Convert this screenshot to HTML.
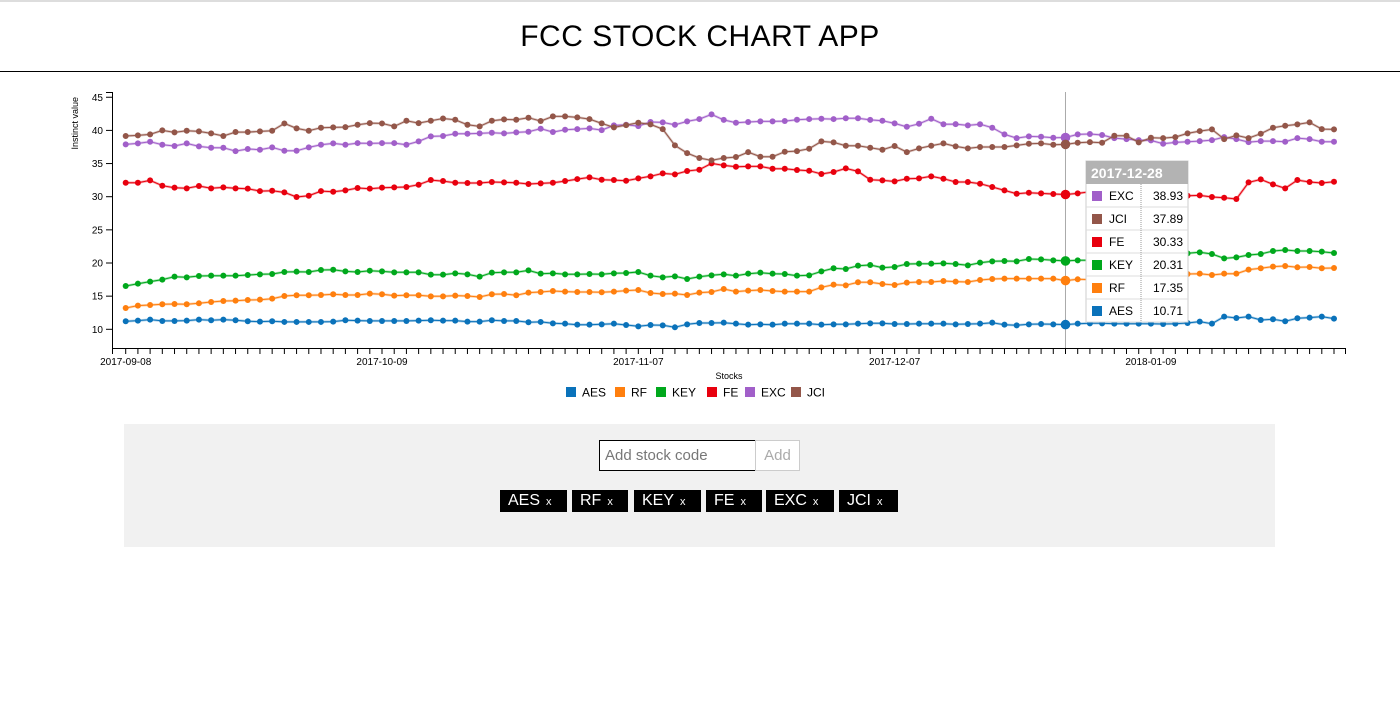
<!DOCTYPE html>
<html><head><meta charset="utf-8"><style>
body{margin:0;width:1400px;height:710px;background:#fff;font-family:"Liberation Sans",sans-serif;overflow:hidden;position:relative}
#hdr{position:absolute;left:0;top:0;width:1400px;height:72px;border-top:2px solid #ddd;border-bottom:1px solid #000;box-sizing:border-box}
#hdr h1{margin:0;font-weight:normal;font-size:30px;text-align:center;line-height:70px;letter-spacing:0.5px}
#panel{position:absolute;left:124px;top:424px;width:1151px;height:123px;background:#f1f1f1}
#inp{position:absolute;left:475px;top:16px;width:157px;height:31px;border:1px solid #000;box-sizing:border-box;background:#fff;font-size:15px;color:#777;padding:6px 5px;font-family:"Liberation Sans",sans-serif}
#addb{position:absolute;left:631px;top:16px;width:45px;height:31px;border:1px solid #ccc;box-sizing:border-box;background:#fff;color:#aaa;font-size:15px;text-align:center;line-height:29px}
.tag{position:absolute;top:66px;height:22px;background:#000;color:#fff;font-size:16px;line-height:22px;padding-left:8px;box-sizing:border-box}
.tag span{font-size:11px;margin-left:6px}
</style></head><body>
<div id="hdr"><h1>FCC STOCK CHART APP</h1></div>
<svg id="chart" width="1400" height="420" style="position:absolute;left:0;top:0"></svg>
<div id="panel">
<div id="inp">Add stock code</div>
<div id="addb">Add</div>
<div class="tag" style="left:376px;width:67px">AES<span>x</span></div>
<div class="tag" style="left:448px;width:56px">RF<span>x</span></div>
<div class="tag" style="left:510px;width:67px">KEY<span>x</span></div>
<div class="tag" style="left:582px;width:56px">FE<span>x</span></div>
<div class="tag" style="left:642px;width:68px">EXC<span>x</span></div>
<div class="tag" style="left:715px;width:59px">JCI<span>x</span></div>
</div>
<script>
const seriesNames=["AES","RF","KEY","FE","EXC","JCI"];
const seriesColors=["#0a72ba","#ff7f0e","#00a81c","#e8000e","#a15fc9","#935649"];
const holidays=["2017-11-23","2017-12-25","2018-01-01","2018-01-15"];
const yTicks=[10,15,20,25,30,35,40,45];
const aes=[11.21,11.31,11.46,11.26,11.26,11.31,11.46,11.36,11.46,11.36,11.21,11.16,11.21,11.11,11.11,11.11,11.11,11.16,11.36,11.31,11.26,11.26,11.26,11.26,11.31,11.36,11.31,11.31,11.16,11.16,11.36,
11.26,11.26,11.06,11.11,10.9,10.85,10.7,10.7,10.75,10.85,10.65,10.45,10.65,10.6,10.3,10.75,10.95,10.95,11.0,10.85,10.7,10.75,10.7,10.85,10.85,10.85,10.7,10.75,10.75,10.85,10.9,10.9,10.8,10.8,10.85,
10.85,10.85,10.75,10.8,10.85,11.0,10.7,10.6,10.75,10.8,10.75,10.71,10.85,10.9,10.9,10.85,10.85,10.85,10.85,10.8,10.85,10.95,11.16,10.85,11.91,11.71,11.91,11.41,11.51,11.21,11.66,11.76,11.91,11.61];
const rf=[13.22,13.57,13.67,13.77,13.82,13.77,13.92,14.12,14.27,14.32,14.42,14.47,14.62,15.03,15.13,15.13,15.18,15.28,15.18,15.18,15.38,15.28,15.08,15.13,15.13,14.97,14.97,15.08,15.03,14.87,15.28,
15.33,15.13,15.53,15.63,15.78,15.68,15.63,15.63,15.58,15.68,15.83,15.93,15.48,15.33,15.38,15.18,15.53,15.63,16.08,15.68,15.83,15.93,15.78,15.68,15.68,15.68,16.33,16.73,16.63,17.09,17.09,16.83,16.68,17.04,17.14,
17.14,17.29,17.19,17.14,17.44,17.59,17.64,17.64,17.64,17.64,17.64,17.35,17.54,17.5,17.55,17.55,17.6,17.6,17.65,17.8,17.9,18.34,18.39,18.19,18.39,18.39,19.0,19.2,19.45,19.55,19.35,19.4,19.2,19.25];
const key=[16.53,16.88,17.19,17.49,17.94,17.84,18.04,18.09,18.09,18.09,18.19,18.29,18.34,18.64,18.69,18.64,18.94,18.99,18.74,18.64,18.84,18.74,18.59,18.59,18.59,18.24,18.24,18.44,18.29,17.94,18.54,
18.59,18.59,18.89,18.39,18.44,18.29,18.29,18.34,18.29,18.44,18.49,18.64,18.09,17.84,17.99,17.59,17.94,18.14,18.29,18.09,18.39,18.54,18.39,18.34,18.09,18.14,18.74,19.2,19.1,19.6,19.7,19.3,19.4,19.85,19.9,
19.9,19.95,19.85,19.65,20.05,20.25,20.3,20.25,20.6,20.55,20.4,20.31,20.4,20.4,20.5,20.6,20.6,20.7,20.7,20.8,21.0,21.46,21.61,21.36,20.7,20.85,21.21,21.36,21.81,21.96,21.81,21.81,21.71,21.51];
const fe=[32.11,32.11,32.46,31.66,31.36,31.26,31.61,31.26,31.41,31.26,31.21,30.85,30.9,30.65,29.95,30.15,30.85,30.75,30.95,31.31,31.21,31.36,31.41,31.46,31.81,32.51,32.36,32.11,32.06,32.06,32.21,
32.16,32.11,31.91,32.01,32.11,32.36,32.66,32.91,32.56,32.51,32.41,32.76,33.07,33.52,33.37,33.87,34.07,35.03,34.72,34.52,34.57,34.57,34.22,34.22,34.02,33.92,33.42,33.72,34.27,33.82,32.56,32.46,32.31,32.71,32.76,
33.07,32.71,32.21,32.21,31.96,31.46,30.95,30.45,30.6,30.5,30.4,30.33,30.5,30.75,30.5,30.4,30.4,30.3,30.3,30.2,30.2,30.15,30.2,29.95,29.85,29.65,32.16,32.61,31.86,31.26,32.51,32.21,32.06,32.26];
const exc=[37.89,38.04,38.29,37.84,37.64,38.04,37.59,37.39,37.39,36.88,37.19,37.09,37.44,36.93,36.93,37.44,37.84,38.04,37.84,38.09,38.04,38.09,38.09,37.84,38.34,39.1,39.15,39.5,39.5,39.55,39.65,
39.55,39.7,39.8,40.25,39.75,40.1,40.2,40.3,40.05,40.75,40.85,40.65,41.26,41.21,40.85,41.36,41.71,42.41,41.58,41.16,41.26,41.36,41.36,41.41,41.61,41.71,41.76,41.71,41.83,41.83,41.58,41.46,41.06,40.55,41.0,
41.76,40.93,40.95,40.75,40.93,40.4,39.4,38.84,39.1,39.05,38.89,38.93,39.4,39.45,39.3,38.84,38.69,38.54,38.49,37.99,38.19,38.29,38.39,38.54,38.99,38.69,38.24,38.39,38.39,38.29,38.84,38.69,38.29,38.29];
const jci=[39.15,39.25,39.4,40.0,39.7,39.95,39.85,39.55,39.15,39.75,39.75,39.85,39.95,41.05,40.3,39.95,40.4,40.45,40.5,40.85,41.1,41.05,40.6,41.45,41.1,41.45,41.8,41.6,40.85,40.6,41.45,
41.66,41.61,41.91,41.41,42.11,42.11,41.96,41.71,41.06,40.45,40.8,41.16,40.9,40.2,37.74,36.58,35.83,35.48,35.83,35.98,36.73,36.03,36.03,36.78,36.88,37.24,38.34,38.19,37.69,37.69,37.39,37.09,37.64,36.73,37.29,
37.69,38.04,37.59,37.29,37.49,37.49,37.49,37.74,37.99,38.04,37.84,37.89,38.14,38.24,38.14,39.2,39.2,38.19,38.89,38.84,38.99,39.55,39.9,40.15,38.69,39.25,38.84,39.5,40.4,40.7,40.9,41.21,40.2,40.15];
const hoverIndex=77;

const series=[aes,rf,key,fe,exc,jci];
const dates=[];
(function(){let d=new Date(Date.UTC(2017,8,8));while(dates.length<aes.length){const s=d.toISOString().slice(0,10);const w=d.getUTCDay();if(w!==0&&w!==6&&holidays.indexOf(s)<0)dates.push(s);d=new Date(d.getTime()+864e5);}})();

const NS="http://www.w3.org/2000/svg";
const svg=document.getElementById('chart');
function mk(t,a,p){const e=document.createElementNS(NS,t);for(const k in a)e.setAttribute(k,a[k]);(p||svg).appendChild(e);return e;}
const X0=125.7,X1=1334,Y0=329.3,YPX=6.63;
const n=aes.length;
function xs(i){return X0+(X1-X0)*i/(n-1);}
function ys(v){return Y0-(v-10)*YPX;}

const yAx=mk('g',{});


mk('path',{d:'M106,92.5H112.5V348.5',fill:'none',stroke:'#000'},yAx);
yTicks.forEach(v=>{const y=ys(v);mk('line',{x1:106,x2:112,y1:y,y2:y,stroke:'#000'},yAx);
const t=mk('text',{x:103,y:y+3.5,'text-anchor':'end','font-size':10,fill:'#000'},yAx);t.textContent=v;

});
const yt=mk('text',{transform:'translate(78,97) rotate(-90)','text-anchor':'end','font-size':9,fill:'#000'});
yt.textContent='Instinct value';



const xAx=mk('g',{});


mk('path',{d:'M112.5,354V348.5H1345.5V354',fill:'none',stroke:'#000'},xAx);
for(let i=0;i<n;i++){const x=xs(i);mk('line',{x1:x,x2:x,y1:348,y2:354,stroke:'#000'},xAx);
if(i%21===0){const t=mk('text',{x:x,y:365,'text-anchor':'middle','font-size':10,fill:'#000'},xAx);t.textContent=dates[i];

}}
const xt=mk('text',{x:729,y:379,'text-anchor':'middle','font-size':9,fill:'#000'});
xt.textContent='Stocks';



const hl=mk('line',{x1:xs(hoverIndex),x2:xs(hoverIndex),y1:92,y2:348,stroke:'#aaa'});



series.forEach((s,si)=>{const g=mk('g',{});


const d=s.map((v,i)=>(i?'L':'M')+xs(i).toFixed(1)+','+ys(v).toFixed(1)).join('');
mk('path',{d:d,fill:'none',stroke:seriesColors[si],'stroke-width':2.5,'stroke-opacity':0.35},g);
mk('path',{d:d,fill:'none',stroke:seriesColors[si],'stroke-width':1},g);
s.forEach((v,i)=>{const c=mk('circle',{cx:xs(i),cy:ys(v),r:i===hoverIndex?4.8:3,fill:seriesColors[si]},g);

});});

const lg=mk('g',{});


let lx=566;const lw=[49,41,51,38,46,40];
seriesNames.forEach((nm,i)=>{const e=mk('g',{},lg);


mk('rect',{x:lx,y:387,width:10,height:10,fill:seriesColors[i]},e);
const t=mk('text',{x:lx+16,y:396.5,'font-size':12,fill:'#000'},e);t.textContent=nm;lx+=lw[i];});

const tg=mk('g',{});


const TX=1086,TY=161;
mk('rect',{x:TX,y:TY,width:102,height:161,fill:'#fff',stroke:'#ccc'},tg);
mk('rect',{x:TX,y:TY,width:102,height:23,fill:'#b3b3b3'},tg);
const th=mk('text',{x:TX+5,y:TY+17,'font-size':14,'font-weight':'bold',fill:'#fff'},tg);th.textContent=dates[hoverIndex];
const order=series.map((s,i)=>i).sort((a,b)=>series[b][hoverIndex]-series[a][hoverIndex]);
order.forEach((si,r)=>{const y=TY+23+r*23;
mk('line',{x1:TX,x2:TX+102,y1:y+23,y2:y+23,stroke:'#ddd'},tg);
mk('rect',{x:TX+6,y:y+7,width:10,height:10,fill:seriesColors[si]},tg);
const a=mk('text',{x:TX+23,y:y+16,'font-size':12,fill:'#000'},tg);a.textContent=seriesNames[si];
const b=mk('text',{x:TX+97,y:y+16,'font-size':12,fill:'#000','text-anchor':'end'},tg);b.textContent=series[si][hoverIndex].toFixed(2);});
mk('line',{x1:TX+55,x2:TX+55,y1:TY+23,y2:TY+161,stroke:'#999','stroke-dasharray':'1,1'},tg);
</script>
</body></html>
